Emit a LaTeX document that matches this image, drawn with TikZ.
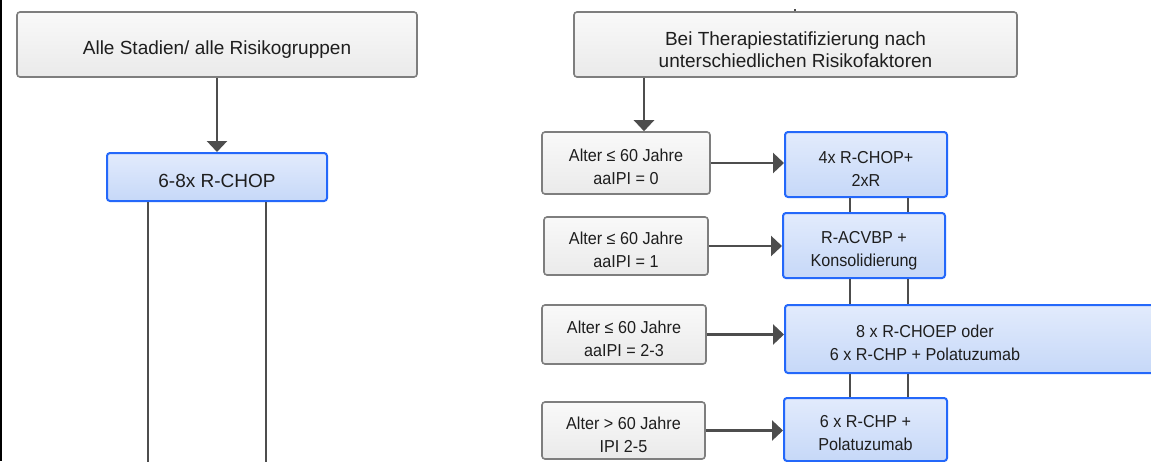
\documentclass[tikz,border=0pt]{standalone}
\usepackage{fontspec}
\setmainfont{Liberation Sans}
\newfontfamily\tallfont{Liberation Sans}[FakeStretch=0.935]
\usetikzlibrary{arrows.meta}
\definecolor{arr}{HTML}{4D4D4D}
\definecolor{grayb}{HTML}{7E7E7E}
\definecolor{gtop}{HTML}{F9F9F9}
\definecolor{gbot}{HTML}{EAEAEA}
\definecolor{blueb}{HTML}{2468FA}
\definecolor{btop}{HTML}{E2EBFC}
\definecolor{bbot}{HTML}{C6D8F8}
\definecolor{txt}{HTML}{1E1E1E}
\begin{document}
\begin{tikzpicture}[x=1pt,y=-1pt,
  graybox/.style={draw=grayb, line width=1.6pt, rounded corners=3pt, top color=gtop, bottom color=gbot, inner sep=0pt},
  bluebox/.style={draw=blueb, line width=2pt, rounded corners=3pt, top color=btop, bottom color=bbot, inner sep=0pt},
  tlab/.style={align=center, text=txt, inner sep=0pt, yshift=-4pt},
  big/.style={font=\fontsize{19}{22}\selectfont},
  small/.style={font=\tallfont\fontsize{17.3}{23}\selectfont},
  conn/.style={draw=arr, line width=2.5pt},
  arrow/.style={conn, -{Triangle[length=11pt,width=20pt]}}]
\useasboundingbox (0,0) rectangle (1151,461);
\clip (0,0) rectangle (1151,461);
\fill[white] (0,0) rectangle (1151,461);
\fill[black] (0,0) rectangle (2,461);

% left part
\node[graybox, minimum width=400pt, minimum height=65pt,
  label={[tlab,big,yshift=-1pt]center:Alle Stadien/ alle Risikogruppen}] (A) at (217,44.5) {};
\node[bluebox, minimum width=220pt, minimum height=48pt,
  label={[tlab,big]center:6-8x R-CHOP}] (B) at (217,177) {};
\draw[arrow] (A.south) -- (B.north);
\coordinate (l1) at (148,470);
\coordinate (l2) at (266,470);
\draw[conn] (l1 |- B.south) -- (l1);
\draw[conn] (l2 |- B.south) -- (l2);

% right part
\node[graybox, minimum width=443pt, minimum height=65pt,
  label={[tlab,big,yshift=-1pt]center:Bei Therapiestatifizierung nach\\unterschiedlichen Risikofaktoren}] (C) at (795.5,44.5) {};
\coordinate (s) at (795,9);
\draw[draw=arr, line width=1.5pt] (s |- C.north) -- (s);

\node[graybox, minimum width=168pt, minimum height=62pt,
  label={[tlab,small]center:Alter ≤ 60 Jahre\\aaIPI = 0}] (D1) at (626,163) {};
\node[graybox, minimum width=164pt, minimum height=58pt,
  label={[tlab,small]center:Alter ≤ 60 Jahre\\aaIPI = 1}] (D2) at (626,246) {};
\node[graybox, minimum width=164pt, minimum height=59pt,
  label={[tlab,small]center:Alter ≤ 60 Jahre\\aaIPI = 2-3}] (D3) at (624,334.5) {};
\node[graybox, minimum width=163pt, minimum height=57pt,
  label={[tlab,small]center:Alter > 60 Jahre\\IPI 2-5}] (D4) at (623.5,430.5) {};

\node[bluebox, minimum width=162pt, minimum height=65pt,
  label={[tlab,small]center:4x R-CHOP+\\2xR}] (E1) at (866,164.5) {};
\node[bluebox, minimum width=162pt, minimum height=65pt,
  label={[tlab,small,yshift=-1.5pt]center:R-ACVBP +\\Konsolidierung}] (E2) at (864,245.5) {};
\node[bluebox, minimum width=380pt, minimum height=68pt,
  label={[tlab,small,xshift=-50pt]center:8 x R-CHOEP oder\\6 x R-CHP + Polatuzumab}] (E3) at (975,339) {};
\node[bluebox, minimum width=163pt, minimum height=63pt,
  label={[tlab,small]center:6 x R-CHP +\\Polatuzumab}] (E4) at (865.5,429.5) {};

\coordinate (c1) at (644,0);
\draw[arrow] (c1 |- C.south) -- (c1 |- D1.north);

\draw[arrow] (D1.east) -- (E1.west |- D1.east);
\draw[arrow] (D2.east) -- (E2.west |- D2.east);
\draw[arrow] (D3.east) -- (E3.west |- D3.east);
\draw[arrow] (D4.east) -- (E4.west |- D4.east);

\coordinate (v1) at (850,0);
\coordinate (v2) at (908,0);
\foreach \a/\b in {E1/E2,E2/E3,E3/E4}{
  \draw[conn, line width=2pt] (v1 |- \a.south) -- (v1 |- \b.north);
  \draw[conn, line width=2pt] (v2 |- \a.south) -- (v2 |- \b.north);
}
\end{tikzpicture}
\end{document}
